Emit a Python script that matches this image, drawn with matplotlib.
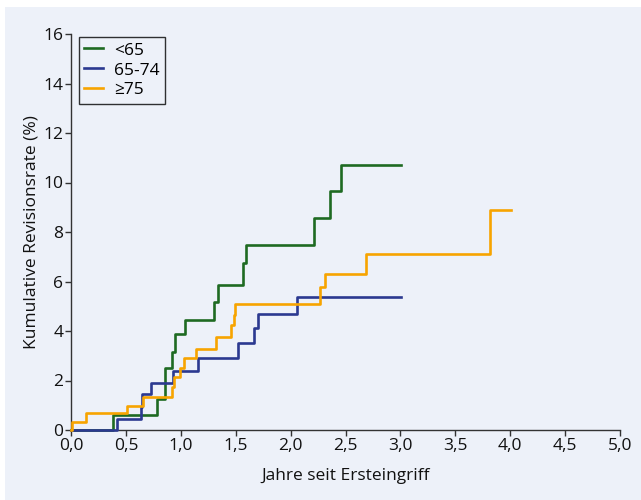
import matplotlib
matplotlib.use("Agg")
import matplotlib.pyplot as plt
from matplotlib.patches import Rectangle

plt.rcParams['font.family'] = ['Open Sans', 'DejaVu Sans']

# Data
green_x = [0, 0.38, 0.78, 0.86, 0.92, 0.95, 1.04, 1.30, 1.34, 1.57, 1.59, 2.21, 2.36, 2.46, 3.01]
green_y = [0, 0.6, 1.25, 2.5, 3.15, 3.88, 4.43, 5.18, 5.87, 6.73, 7.49, 8.57, 9.66, 10.71, 10.71]

blue_x = [0, 0.42, 0.64, 0.65, 0.73, 0.93, 1.16, 1.52, 1.67, 1.70, 2.06, 3.01]
blue_y = [0, 0.43, 0.94, 1.45, 1.91, 2.40, 2.90, 3.50, 4.13, 4.69, 5.37, 5.37]

orange_x = [0, 0.01, 0.14, 0.51, 0.66, 0.92, 0.94, 0.99, 1.03, 1.14, 1.32, 1.46, 1.48, 1.49,
            2.27, 2.31, 2.69, 3.82, 4.01]
orange_y = [0, 0.34, 0.67, 0.98, 1.32, 1.73, 2.15, 2.52, 2.90, 3.27, 3.74, 4.24, 4.65, 5.09,
            5.77, 6.32, 7.12, 8.90, 8.90]

labels = ['<65', '65-74', '≥75']
colors = ['#1e6a22', '#2b3990', '#f7a400']
x_ticks = [0, 0.5, 1.0, 1.5, 2.0, 2.5, 3.0, 3.5, 4.0, 4.5, 5.0]
x_tick_labels = ['0,0', '0,5', '1,0', '1,5', '2,0', '2,5', '3,0', '3,5', '4,0', '4,5', '5,0']
y_ticks = [0, 2, 4, 6, 8, 10, 12, 14, 16]

bg = '#edf1f9'
fig = plt.figure(figsize=(6.41, 5.0), dpi=100, facecolor='white')
rect = Rectangle((5/641, 0), 1 - 5/641, 1 - 7/500, transform=fig.transFigure,
                 facecolor=bg, edgecolor='none', zorder=-10)
fig.add_artist(rect)

ax = fig.add_axes([71/641, 70/500, 549/641, 396/500])
ax.set_zorder(1)
ax.patch.set_visible(False)

for xs, ys, c, lab in [(green_x, green_y, colors[0], labels[0]),
                       (blue_x, blue_y, colors[1], labels[1]),
                       (orange_x, orange_y, colors[2], labels[2])]:
    ax.step(xs, ys, where='post', color=c, lw=1.9, label=lab, clip_on=False, zorder=3)

ax.set_xlim(0, 5)
ax.set_ylim(0, 16)
ax.set_xticks(x_ticks)
ax.set_xticklabels(x_tick_labels)
ax.set_yticks(y_ticks)

for s in ['top', 'right']:
    ax.spines[s].set_visible(False)
for s in ['left', 'bottom']:
    ax.spines[s].set_color('#333333')
    ax.spines[s].set_linewidth(1.0)

ax.tick_params(axis='both', direction='out', length=4, width=1.0, color='#333333',
               labelsize=12.5, labelcolor='#111111', pad=1.5)

ax.set_xlabel('Jahre seit Ersteingriff', fontsize=12.5, color='#111111', labelpad=10)
ax.set_ylabel('Kumulative Revisionsrate (%)', fontsize=12.5, color='#111111', labelpad=3)

leg = ax.legend(loc='upper left', bbox_to_anchor=(0.0146, 0.992), fontsize=12.5,
                frameon=True, fancybox=False, handlelength=1.1, handletextpad=0.6,
                borderpad=0.3, labelspacing=0.22, borderaxespad=0)
leg.get_frame().set_edgecolor('black')
leg.get_frame().set_facecolor(bg)
leg.get_frame().set_linewidth(1.0)

fig.savefig('out.png', dpi=100, facecolor='white')
